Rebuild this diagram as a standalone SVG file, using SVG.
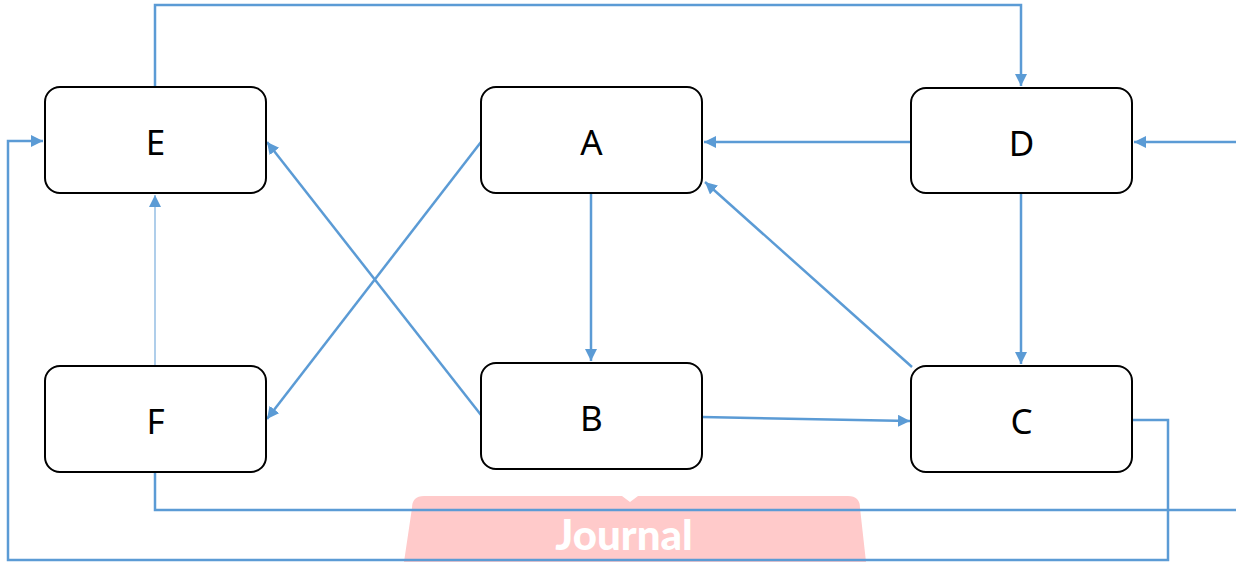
<svg xmlns="http://www.w3.org/2000/svg" width="1236" height="562" viewBox="0 0 1236 562">
<style>
.node rect{fill:#fff;stroke:#000;stroke-width:2}
.node text{font-family:"Noto Sans","Open Sans",sans-serif;font-size:35px;fill:#000;text-anchor:middle;dominant-baseline:central}
.c{fill:none;stroke:#5B9BD5;stroke-width:2.5}
.thin{stroke-width:1.2;stroke:#7AAEDD}
</style>
<defs>
<marker id="ah" markerUnits="userSpaceOnUse" markerWidth="14" markerHeight="14" refX="12" refY="6" orient="auto">
<path d="M0,0 L12,6 L0,12 Z" fill="#5B9BD5"/>
</marker>
</defs>
<g id="watermark">
<path d="M412,508 Q412,496 424,496 L622,496 L630,502 L638,496 L848,496 Q860,496 860,508 L866,562 L404,562 Z" fill="#FFCACA"/>
<text x="624" y="550" font-family="Lato,'Noto Sans',sans-serif" font-weight="900" font-size="42" fill="#fff" text-anchor="middle">Journal</text>
</g>
<g id="connectors">
<path class="c" d="M155,87 V5 H1021 V86" marker-end="url(#ah)"/>
<path class="c" d="M1132,420 H1168 V560 H8 V141 H43" marker-end="url(#ah)"/>
<path class="c" d="M155,472 V510 H1250 V142 H1134" marker-end="url(#ah)"/>
<path class="c" d="M911,142 H704" marker-end="url(#ah)"/>
<path class="c" d="M1021,193 V364" marker-end="url(#ah)"/>
<path class="c" d="M591,193 V361" marker-end="url(#ah)"/>
<path class="c" d="M481,142 L267,419" marker-end="url(#ah)"/>
<path class="c" d="M481,415 L267,142" marker-end="url(#ah)"/>
<path class="c" d="M912,367 L705,182" marker-end="url(#ah)"/>
<path class="c" d="M702,417 L910,421" marker-end="url(#ah)"/>
<path class="c thin" d="M155,366 V195" marker-end="url(#ah)"/>
</g>
<g id="E" class="node"><rect x="45" y="87" width="221" height="106" rx="15"/><text x="155.5" y="141">E</text></g>
<g id="A" class="node"><rect x="481" y="87" width="221" height="106" rx="15"/><text x="591.5" y="141">A</text></g>
<g id="D" class="node"><rect x="911" y="88" width="221" height="105" rx="15"/><text x="1021.5" y="142">D</text></g>
<g id="F" class="node"><rect x="45" y="366" width="221" height="106" rx="15"/><text x="155.5" y="420">F</text></g>
<g id="B" class="node"><rect x="481" y="363" width="221" height="106" rx="15"/><text x="591.5" y="417">B</text></g>
<g id="C" class="node"><rect x="911" y="366" width="221" height="106" rx="15"/><text x="1021.5" y="420">C</text></g>
</svg>
